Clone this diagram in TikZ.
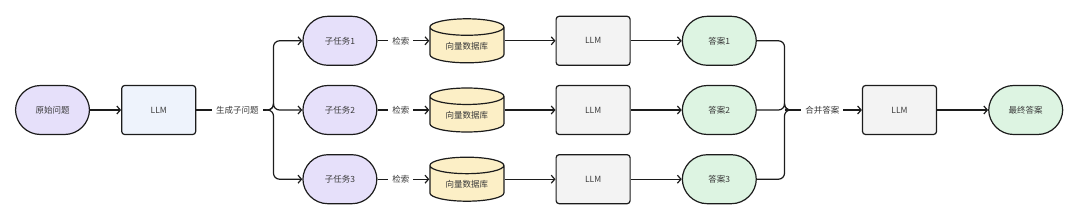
\documentclass[tikz,border=0pt]{standalone}
\usepackage{fontspec}
\setmainfont{Noto Sans CJK SC}
\usepackage{xcolor}
\usepackage{tikz}
\usetikzlibrary{positioning,shapes.geometric,arrows.meta}

\definecolor{purp}{HTML}{E6E0FA}
\definecolor{blue}{HTML}{EEF3FC}
\definecolor{gry}{HTML}{F3F3F3}
\definecolor{sand}{HTML}{FCEFC6}
\definecolor{mint}{HTML}{DDF4E2}
\definecolor{ink}{HTML}{1C1C1C}
\definecolor{txt}{HTML}{3A3A3A}

\begin{document}
\begin{tikzpicture}[
  x=1pt, y=1pt, font=\fontsize{8.5}{10}\selectfont, text=txt,
  >={Straight Barb[length=3.5pt,width=8pt]}, line width=1.2pt, draw=ink,
  node distance=19pt and 51pt,
  pill/.style={draw=ink, rounded corners=25pt, minimum width=74pt, minimum height=49pt, inner sep=1pt},
  box/.style={draw=ink, rounded corners=3pt, minimum width=74pt, minimum height=49pt, inner sep=1pt},
  db/.style={draw=ink, fill=sand, cylinder, shape border rotate=90, aspect=0.37,
    minimum width=74pt, minimum height=44pt, inner sep=1pt},
  lab/.style={fill=white, inner sep=4pt, line width=0pt}]
\useasboundingbox (0,0) rectangle (1080,-220);
\node[pill, fill=purp] (q) at (52.5,-110) {原始问题};
\node[box, fill=blue, right=31pt of q] (llm0) {LLM};
\node[pill, fill=purp, right=106pt of llm0] (t2) {子任务2};
\node[pill, fill=purp, above=of t2] (t1) {子任务1};
\node[pill, fill=purp, below=of t2] (t3) {子任务3};
\foreach \i in {1,2,3} {
  \node[db, right=89.4pt of t\i, anchor=shape center] (v\i) {\raisebox{-2pt}{向量数据库}};
  \node[box, fill=gry, right=51pt of t\i -| v\i.east] (llm\i) {LLM};
  \node[pill, fill=mint, right=of llm\i] (a\i) {答案\i};
}
\node[box, fill=gry, right=105pt of a2] (llm4) {LLM};
\node[pill, fill=mint, right=of llm4] (fin) {最终答案};
\coordinate (split) at (266,-110);
\coordinate (bj) at (273.5,-110);
\coordinate (mj) at (784.5,-110);
\coordinate (mo) at (795,-110);
% edges
\draw[->] (q) -- (llm0);
\draw (llm0) -- node[lab, pos=0.59]{生成子问题} (split);
\foreach \i in {1,2,3} {
  \draw[->, rounded corners=6pt] (split) -- (bj) |- (t\i.west);
  \draw[->] (t\i) -- node[lab, pos=0.45]{检索} (t\i -| v\i.west);
  \draw[->] (llm\i -| v\i.east) -- (llm\i);
  \draw[->] (llm\i) -- (a\i);
  \draw[rounded corners=6pt] (a\i.east) -| (mj) -- (mo);
}
\draw[->] (mj) -- node[lab, pos=0.49]{合并答案} (llm4);
\draw[->] (llm4) -- (fin);
\end{tikzpicture}
\end{document}
